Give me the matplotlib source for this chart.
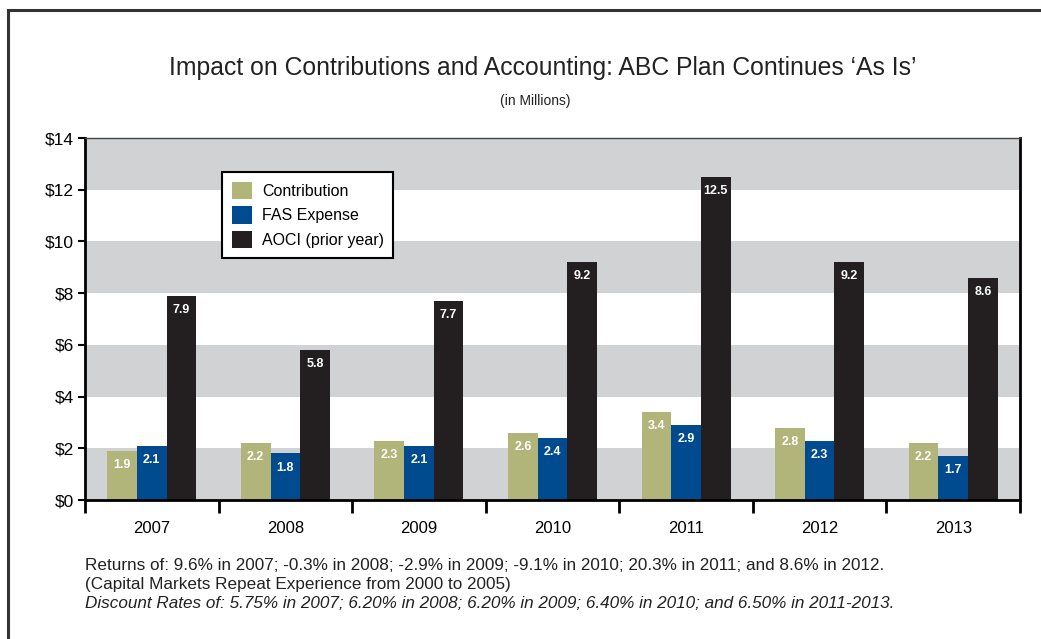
import matplotlib
matplotlib.use("Agg")
import matplotlib.pyplot as plt
import matplotlib.patches as patches
import numpy as np

years = ["2007", "2008", "2009", "2010", "2011", "2012", "2013"]
contribution = [1.9, 2.2, 2.3, 2.6, 3.4, 2.8, 2.2]
fas_expense = [2.1, 1.8, 2.1, 2.4, 2.9, 2.3, 1.7]
aoci = [7.9, 5.8, 7.7, 9.2, 12.5, 9.2, 8.6]
series_names = ["Contribution", "FAS Expense", "AOCI (prior year)"]
colors = ["#B1B57A", "#004B8F", "#231F20"]
yticks = [0, 2, 4, 6, 8, 10, 12, 14]

notes = [
    "Returns of: 9.6% in 2007; -0.3% in 2008; -2.9% in 2009; -9.1% in 2010; 20.3% in 2011; and 8.6% in 2012.",
    "(Capital Markets Repeat Experience from 2000 to 2005)",
    "Discount Rates of: 5.75% in 2007; 6.20% in 2008; 6.20% in 2009; 6.40% in 2010; and 6.50% in 2011-2013.",
]

plt.rcParams['font.family'] = ['Liberation Sans', 'DejaVu Sans']

fig = plt.figure(figsize=(10.41, 6.39), dpi=100)
ax = fig.add_axes([85/1041, 1 - 500/639, 935/1041, 362/639])

# outer frame (cut by the image edge on right/bottom)
fig.patches.append(patches.Rectangle((8/1041, -0.05), 1.1, 1 - 10/639 + 0.05,
                                     transform=fig.transFigure, fill=False,
                                     edgecolor="#333333", linewidth=2.2))

# alternating bands
for lo in range(0, 14, 4):
    ax.axhspan(lo, lo + 2, color="#D1D2D4", zorder=0, linewidth=0)
ax.axhspan(12, 14, color="#D1D2D4", zorder=0, linewidth=0)

x = np.arange(len(years))
w = 0.222
data = [contribution, fas_expense, aoci]
for i, (vals, name, c) in enumerate(zip(data, series_names, colors)):
    pos = x + (i - 1) * w
    bars = ax.bar(pos, vals, width=w, color=c, label=name, zorder=2, linewidth=0)
    for b, v in zip(bars, vals):
        ax.text(b.get_x() + b.get_width() / 2, v - 0.32, "{:.1f}".format(v),
                ha="center", va="top", color="white", fontsize=9,
                fontweight="bold", zorder=3)

ax.set_xlim(-0.5, len(years) - 0.5)
ax.set_ylim(0, 14)
ax.set_yticks(yticks)
ax.set_yticklabels(["${}".format(t) for t in yticks], fontsize=12.5)
ax.set_xticks(x)
ax.set_xticklabels(years, fontsize=12)
ax.tick_params(axis="x", length=0, pad=15)
ax.set_xticks(np.arange(-0.5, len(years)), minor=True)
ax.tick_params(axis="x", which="minor", length=9, width=2, color="black")
ax.tick_params(axis="y", length=5, width=1.5, pad=3)

for s in ["left", "bottom", "right"]:
    ax.spines[s].set_linewidth(2)
    ax.spines[s].set_color("black")
ax.spines["top"].set_linewidth(1)
ax.spines["top"].set_color("#444444")

leg = ax.legend(loc="upper left", bbox_to_anchor=(0.1465, 0.906), fontsize=11.5,
                frameon=True, fancybox=False, edgecolor="black",
                handlelength=1.3, handleheight=1.3, handletextpad=0.6,
                borderpad=0.6, labelspacing=0.45, borderaxespad=0)
leg.get_frame().set_linewidth(1.5)
leg.get_frame().set_alpha(1)

fig.text(543/1041, 1 - 68/639, "Impact on Contributions and Accounting: ABC Plan Continues \u2018As Is\u2019",
         ha="center", va="center", fontsize=17.8, color="#222222")
fig.text(535/1041, 1 - 101/639, "(in Millions)", ha="center", va="center",
         fontsize=10, color="#222222")

ys = [566, 585, 604]
for i, (t, yy) in enumerate(zip(notes, ys)):
    fig.text(85/1041, 1 - yy/639, t, ha="left", va="center", fontsize=12.3,
             color="#222222", style="italic" if i == 2 else "normal")

fig.savefig("out.png", dpi=100)
